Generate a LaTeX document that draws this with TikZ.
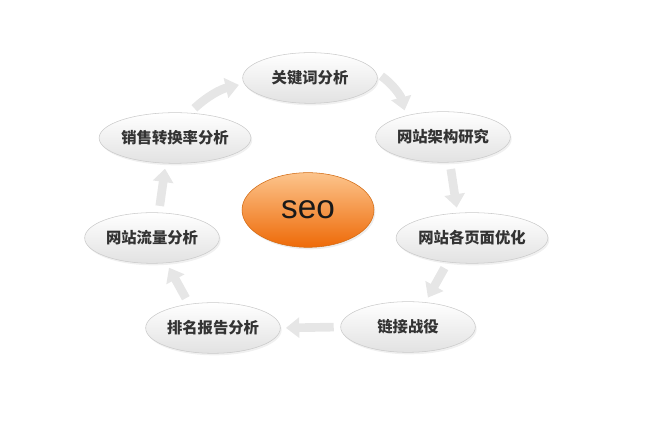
\documentclass[tikz,border=0pt]{standalone}
\usepackage{fontspec}
\newfontfamily\cjk{Noto Sans CJK SC}
\newfontfamily\seofont{Liberation Sans}
\definecolor{colorStepFill}{HTML}{E2E2E2}
\definecolor{colorStepLine}{HTML}{CACACA}
\definecolor{colorCycle}{HTML}{E6E6E6}
\definecolor{colorSeoTop}{HTML}{FCC48C}
\definecolor{colorSeoMid}{HTML}{F8993C}
\definecolor{colorSeoBottom}{HTML}{EE6A08}
\definecolor{colorSeoLine}{HTML}{D26A12}
\usetikzlibrary{arrows.meta, shapes.geometric, shadows}
\tikzset{
  stepnode/.style={ellipse, draw=colorStepLine, top color=white, bottom color=colorStepFill,
    minimum width=101pt, minimum height=38pt, inner sep=0pt, text=black!80,
    font=\cjk\bfseries\fontsize{11.5}{12}\selectfont,
    drop shadow={opacity=0.12, shadow xshift=1pt, shadow yshift=-1.5pt}},
  seonode/.style={ellipse, draw=colorSeoLine, top color=colorSeoTop, middle color=colorSeoMid,
    bottom color=colorSeoBottom,
    minimum width=99pt, minimum height=56pt, inner sep=0pt, text=black!90,
    font=\seofont\fontsize{25}{25}\selectfont,
    drop shadow={opacity=0.15, shadow xshift=1pt, shadow yshift=-1.5pt}},
  cyc/.style={-{Triangle[length=10pt,width=15pt]}, line width=6.5pt, color=colorCycle,
    shorten <=5pt, shorten >=4pt}
}

\begin{document}
\begin{tikzpicture}[x=0.75pt, y=0.75pt]
\useasboundingbox (0,0) rectangle (657,438);
\node[stepnode] (q0) at (310,360) {关键词分析};
\node[stepnode] (q1) at (443,301) {网站架构研究};
\node[stepnode] (q2) at (472,200) {网站各页面优化};
\node[stepnode] (q3) at (408,111) {链接战役};
\node[stepnode] (q4) at (213,110) {排名报告分析};
\node[stepnode] (q5) at (152,200) {网站流量分析};
\node[stepnode] (q6) at (175,300) {销售转换率分析};
\node[seonode] (qc) at (308,228) {seo};
\draw [cyc] (q6.60) to [bend left=15] (q0.185);
\draw [cyc] (q0.5) to [bend left=20] (q1.150);
\draw [cyc] (q1.-75) -- (q2.120);
\draw [cyc] (q2.-135) -- (q3.55);
\draw [cyc] (q3.west) -- (q4.east);
\draw [cyc] (q4.135) -- (q5.-60);
\draw [cyc] (q5.75) -- (q6.-110);
\end{tikzpicture}
\end{document}
